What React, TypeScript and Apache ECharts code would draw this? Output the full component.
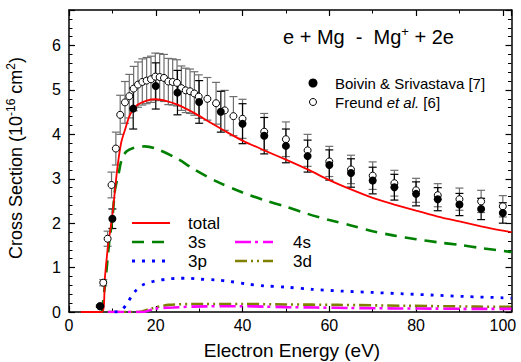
import React, { useEffect, useRef } from "react";
import * as echarts from "echarts";

// Theory curves [energy (eV), cross section (1e-16 cm^2)]
const totalCurve: number[][] = [[2.7,0],[7.6,0],[8.3,0.8],[9,1.5],[9.9,2.1],[11.1,3.2],[12,3.8],[12.9,4.1],[14.1,4.45],[15.6,4.65],[17.9,4.76],[20,4.79],[22.5,4.75],[25,4.67],[28.7,4.49],[32.5,4.27],[36.4,4.05],[40,3.86],[45,3.64],[50,3.43],[55,3.21],[60,2.97],[65,2.76],[70,2.57],[75,2.42],[80,2.28],[85,2.15],[90,2.04],[95,1.93],[100,1.83],[102,1.8]];
const curve3s: number[][] = [[7.6,0],[8.5,0.8],[9.3,1.6],[10,2.1],[10.6,2.75],[11.4,3.1],[12.2,3.45],[13.3,3.62],[15,3.7],[17.5,3.73],[20,3.68],[25,3.45],[28.7,3.22],[34,2.94],[40,2.69],[45,2.52],[50,2.37],[55,2.21],[60,2.07],[65,1.95],[70,1.82],[75,1.72],[80,1.64],[85,1.57],[90,1.51],[95,1.44],[102,1.35]];
const curve3p: number[][] = [[10.5,0],[12,0.03],[13.3,0.18],[15,0.44],[16.8,0.6],[18.8,0.67],[20.5,0.71],[22.7,0.74],[25,0.76],[27.5,0.76],[30,0.74],[34,0.72],[37,0.69],[41,0.63],[45,0.59],[50,0.56],[56,0.51],[63,0.47],[70,0.44],[77,0.41],[84,0.38],[91,0.35],[100,0.32],[102,0.31]];
const curve4s: number[][] = [[9,0],[17,0],[20,0.08],[24,0.1],[28,0.12],[35,0.13],[40,0.13],[45,0.12],[50,0.11],[57,0.1],[65,0.09],[76,0.08],[85,0.075],[95,0.07],[102,0.07]];
const curve3d: number[][] = [[9,0],[16,0],[19,0.08],[23,0.16],[31,0.18],[40,0.18],[50,0.17],[62,0.16],[78,0.14],[94,0.12],[102,0.115]];

// Experimental data
const boivinE = [7.2,10,14.8,20,25,30,35,40,45,50,55,60,65,70,75,80,85,90,95,100];
const boivinV = [0.13,2.1,4.58,5.09,4.94,4.73,4.51,4.24,3.97,3.74,3.51,3.31,3.13,2.96,2.81,2.66,2.54,2.42,2.32,2.23];
const boivinErr = [0.02,0.22,0.46,0.52,0.5,0.48,0.46,0.45,0.41,0.38,0.36,0.34,0.32,0.3,0.29,0.27,0.26,0.25,0.24,0.23];

const freundE = [7.1,7.9,8.9,9.8,10.8,11.8,12.9,13.9,14.9,15.9,16.9,17.9,18.9,19.9,20.9,21.9,22.9,23.9,24.9,25.9,26.9,27.9,28.9,29.9,31.9,33.9,35.9,37.9,40,45,50,55,60,65,70,75,80,85,90,95,100];
const freundV = [0.13,0.66,1.65,2.86,3.68,4.44,4.72,4.86,5.03,5.12,5.18,5.21,5.24,5.3,5.29,5.27,5.19,5.18,5.16,5.04,4.99,4.97,4.92,4.85,4.8,4.7,4.54,4.41,4.35,4.06,3.89,3.64,3.39,3.21,3.07,2.9,2.74,2.63,2.54,2.49,2.38];
const freundErr = [0.02,0.07,0.17,0.29,0.37,0.44,0.47,0.49,0.5,0.51,0.52,0.52,0.52,0.53,0.53,0.53,0.52,0.52,0.52,0.5,0.5,0.5,0.49,0.49,0.48,0.47,0.45,0.44,0.44,0.41,0.39,0.36,0.34,0.32,0.31,0.29,0.27,0.26,0.25,0.25,0.24];

const xTickLabels = ["0", "20", "40", "60", "80", "100"];
const FONT = "'Liberation Sans', Arial, sans-serif";

function errorBarSeries(E: number[], V: number[], err: number[], color: string, z: number) {
  return {
    type: "custom",
    z,
    silent: true,
    data: E.map((e, i) => [e, V[i] - err[i], V[i] + err[i]]),
    renderItem: (_p: any, api: any) => {
      const x = api.value(0);
      const lo = api.coord([x, api.value(1)]);
      const hi = api.coord([x, api.value(2)]);
      const w = 4;
      const st = { stroke: color, lineWidth: 1.2 };
      return {
        type: "group",
        children: [
          { type: "line", shape: { x1: lo[0], y1: lo[1], x2: hi[0], y2: hi[1] }, style: st },
          { type: "line", shape: { x1: lo[0] - w, y1: lo[1], x2: lo[0] + w, y2: lo[1] }, style: st },
          { type: "line", shape: { x1: hi[0] - w, y1: hi[1], x2: hi[0] + w, y2: hi[1] }, style: st },
        ],
      };
    },
  };
}

function lineSeries(data: number[][], color: string, width: number, dash: any) {
  return {
    type: "line",
    data,
    showSymbol: false,
    symbol: "none",
    smooth: 0.3,
    z: 3,
    lineStyle: { color, width, type: dash },
  };
}

export default function App() {
  const ref = useRef<HTMLDivElement>(null);
  useEffect(() => {
    const chart = echarts.init(ref.current!, undefined, { renderer: "svg" });
    const axisCommon = {
      axisLine: { show: true, onZero: false, lineStyle: { color: "#000", width: 1.5 } },
      splitLine: { show: false },
    };
    const legendLines = [
      { x1: 132, x2: 170, y: 223, color: "#ff0000", dash: null, w: 1.8, label: "total", tx: 188 },
      { x1: 132, x2: 170, y: 242, color: "#008000", dash: [12, 8], w: 2.6, label: "3s", tx: 188 },
      { x1: 132, x2: 170, y: 261, color: "#0000ff", dash: [3, 7], w: 2.8, label: "3p", tx: 188 },
      { x1: 235, x2: 273, y: 242, color: "#ff00ff", dash: [16, 4, 3, 5], w: 2.6, label: "4s", tx: 293 },
      { x1: 235, x2: 273, y: 261, color: "#808000", dash: [12, 4, 2, 4, 2, 4], w: 2.6, label: "3d", tx: 293 },
    ];
    const graphic: any[] = [];
    legendLines.forEach((l) => {
      graphic.push({
        type: "line",
        shape: { x1: l.x1, y1: l.y, x2: l.x2, y2: l.y },
        style: { stroke: l.color, lineWidth: l.w, lineDash: l.dash || undefined },
      });
      graphic.push({
        type: "text",
        x: l.tx,
        y: l.y,
        style: { text: l.label, fontSize: 17, fontFamily: FONT, fill: "#000", align: "left", verticalAlign: "middle", textAlign: "left", textVerticalAlign: "middle" },
      });
    });
    graphic.push(
      { type: "circle", shape: { cx: 313, cy: 83, r: 4.5 }, style: { fill: "#000" } },
      {
        type: "text", x: 335, y: 83,
        style: { text: "Boivin & Srivastava [7]", fontSize: 15, fontFamily: FONT, fill: "#000", align: "left", verticalAlign: "middle", textAlign: "left", textVerticalAlign: "middle" },
      },
      { type: "circle", shape: { cx: 313, cy: 102, r: 3.5 }, style: { fill: "#fff", stroke: "#000", lineWidth: 1 } },
      {
        type: "text", x: 335, y: 102,
        style: {
          text: "{a|Freund }{i|et al.}{a| [6]}",
          fontFamily: FONT, fill: "#000", align: "left", verticalAlign: "middle", textAlign: "left", textVerticalAlign: "middle",
          rich: {
            a: { fontSize: 15, fontFamily: FONT, fill: "#000" },
            i: { fontSize: 15, fontFamily: FONT, fontStyle: "italic", fill: "#000" },
          },
        },
      },
      {
        type: "text", x: 283, y: 37,
        style: {
          text: "{a|e + Mg  -  Mg}{s|+}{a| + 2e}",
          fontFamily: FONT, fill: "#000", align: "left", verticalAlign: "middle", textAlign: "left", textVerticalAlign: "middle",
          rich: {
            a: { fontSize: 20, lineHeight: 24, fontFamily: FONT, fill: "#000" },
            s: { fontSize: 13, lineHeight: 14, verticalAlign: "top", fontFamily: FONT, fill: "#000" },
          },
        },
      },
      {
        type: "text", x: 16, y: 158, rotation: Math.PI / 2,
        style: {
          text: "{a|Cross Section (10}{s|-16}{a| cm}{s|2}{a|)}",
          fontFamily: FONT, fill: "#000", align: "center", verticalAlign: "middle", textAlign: "center", textVerticalAlign: "middle",
          rich: {
            a: { fontSize: 18, lineHeight: 22, fontFamily: FONT, fill: "#000" },
            s: { fontSize: 12, lineHeight: 12, verticalAlign: "top", fontFamily: FONT, fill: "#000" },
          },
        },
      },
      {
        type: "text", x: 292, y: 350,
        style: { text: "Electron Energy (eV)", fontSize: 19, fontFamily: FONT, fill: "#000", align: "center", verticalAlign: "middle", textAlign: "center", textVerticalAlign: "middle" },
      }
    );

    chart.setOption({
      animation: false,
      backgroundColor: "#fff",
      grid: { left: 69, right: 9.5, top: 10, bottom: 50 },
      xAxis: [
        {
          ...axisCommon,
          type: "value", min: 0, max: 102, interval: 20, position: "bottom",
          axisTick: { show: true, inside: true, length: 6, lineStyle: { color: "#000", width: 1.2 } },
          minorTick: { show: true, splitNumber: 2, length: 3.5, lineStyle: { color: "#000", width: 1 } },
          axisLabel: {
            show: true, margin: 5, fontSize: 16, fontFamily: FONT, color: "#000", showMaxLabel: false,
            formatter: (v: number) => xTickLabels[Math.round(v / 20)] ?? "",
          },
        },
        {
          ...axisCommon,
          type: "value", min: 0, max: 102, interval: 20, position: "top",
          axisTick: { show: true, inside: true, length: 6, lineStyle: { color: "#000", width: 1.2 } },
          minorTick: { show: true, splitNumber: 2, length: 3.5, lineStyle: { color: "#000", width: 1 } },
          axisLabel: { show: false },
        },
      ],
      yAxis: [
        {
          ...axisCommon,
          type: "value", min: 0, max: 6.8, interval: 1, position: "left",
          axisTick: { show: true, inside: true, length: 6, lineStyle: { color: "#000", width: 1.2 } },
          minorTick: { show: true, splitNumber: 5, length: 3.5, lineStyle: { color: "#000", width: 1 } },
          axisLabel: { show: true, margin: 8, fontSize: 16, fontFamily: FONT, color: "#000", showMaxLabel: false },
        },
        {
          ...axisCommon,
          type: "value", min: 0, max: 6.8, interval: 1, position: "right",
          axisTick: { show: true, inside: true, length: 6, lineStyle: { color: "#000", width: 1.2 } },
          minorTick: { show: true, splitNumber: 5, length: 3.5, lineStyle: { color: "#000", width: 1 } },
          axisLabel: { show: false },
        },
      ],
      graphic,
      series: [
        errorBarSeries(freundE, freundV, freundErr, "#6e6e6e", 2),
        errorBarSeries(boivinE, boivinV, boivinErr, "#000", 2),
        lineSeries(curve3d, "#808000", 2.6, [12, 4, 2, 4, 2, 4]),
        lineSeries(curve4s, "#ff00ff", 2.6, [16, 4, 3, 5]),
        lineSeries(curve3p, "#0000ff", 2.8, [3, 7]),
        lineSeries(curve3s, "#008000", 2.6, [12, 8]),
        lineSeries(totalCurve, "#ff0000", 1.8, "solid"),
        {
          type: "scatter", z: 4, symbol: "circle", symbolSize: 7,
          data: freundE.map((e, i) => [e, freundV[i]]),
          itemStyle: { color: "#fff", borderColor: "#000", borderWidth: 1, opacity: 1 },
        },
        {
          type: "scatter", z: 5, symbol: "circle", symbolSize: 8,
          data: boivinE.map((e, i) => [e, boivinV[i]]),
          itemStyle: { color: "#000", opacity: 1 },
        },
      ],
    });
    return () => chart.dispose();
  }, []);
  return <div ref={ref} style={{ position: "fixed", left: 0, top: 0, width: 521, height: 362, background: "#fff" }} />;
}
